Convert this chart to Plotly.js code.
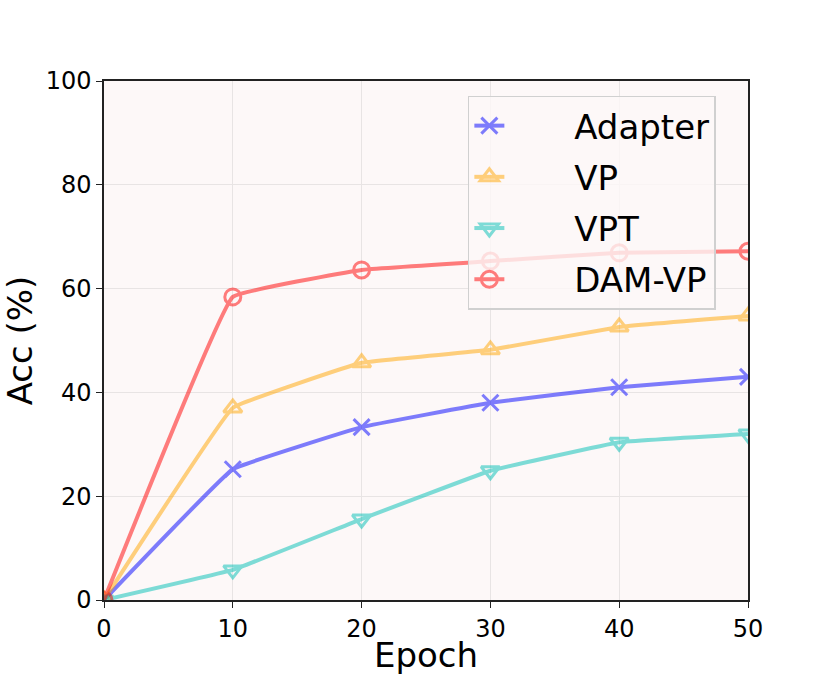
<!DOCTYPE html>
<html>
<head>
<meta charset="utf-8">
<script src="https://cdn.plot.ly/plotly-3.0.1.min.js"></script>
<style>
  body { margin: 0; background: #fff; }
  #plot { width: 830px; height: 675px; }
</style>
</head>
<body>
<div id="plot"></div>
<script>
const epochs = [0, 10, 20, 30, 40, 50];
const adapterAcc = [0, 25.2, 33.3, 38.0, 41.0, 43.0];
const vpAcc = [0, 37.0, 45.7, 48.2, 52.6, 54.7];
const vptAcc = [0, 5.8, 15.6, 24.9, 30.4, 32.0];
const damvpAcc = [0, 58.4, 63.6, 65.3, 66.9, 67.2];

// pad legend labels so text sits further right of the symbol, like matplotlib
const pad = "\u00a0".repeat(6);

function series(name, y, color, symbol) {
    return {
        type: "scatter",
        mode: "lines+markers",
        name: pad + name,
        legendgroup: name,
        x: epochs,
        y: y,
        line: {color: color, width: 4, shape: "spline", smoothing: 0.2},
        marker: {symbol: symbol, size: 16, color: color, line: {color: color, width: 3}},
        opacity: 0.5
    };
}

const traces = [
    series("Adapter", adapterAcc, "#0000ff", "x-thin"),
    series("VP", vpAcc, "#ffa500", "triangle-up-open"),
    series("VPT", vptAcc, "#00bfb5", "triangle-down-open"),
    series("DAM-VP", damvpAcc, "#ff0000", "circle-open")
];

const axisCommon = {
    showline: true,
    linecolor: "#222",
    linewidth: 1.5,
    mirror: true,
    ticks: "outside",
    ticklen: 6,
    tickcolor: "#222",
    tickfont: {size: 24, color: "#000"},
    showgrid: true,
    gridcolor: "#e8e4e4",
    zeroline: false
};

Plotly.newPlot("plot", traces, {
    width: 830,
    height: 675,
    margin: {l: 104, r: 82, t: 81, b: 75},
    paper_bgcolor: "#ffffff",
    plot_bgcolor: "#fdf8f8",
    font: {family: "DejaVu Sans", color: "#000"},
    xaxis: Object.assign({}, axisCommon, {
        range: [0, 50],
        tickvals: [0, 10, 20, 30, 40, 50],
        title: {text: "Epoch", font: {size: 34}, standoff: 4}
    }),
    yaxis: Object.assign({}, axisCommon, {
        range: [0, 100],
        tickvals: [0, 20, 40, 60, 80, 100],
        title: {text: "Acc (%)", font: {size: 34}, standoff: 8}
    }),
    legend: {
        x: 0.565,
        y: 0.972,
        xanchor: "left",
        yanchor: "top",
        traceorder: "grouped",
        tracegroupgap: 4,
        bgcolor: "rgba(253,248,248,0.8)",
        bordercolor: "#d0d0d0",
        borderwidth: 1.5,
        font: {size: 34, color: "#000"}
    },
    showlegend: true
}, {displayModeBar: false});
</script>
</body>
</html>
